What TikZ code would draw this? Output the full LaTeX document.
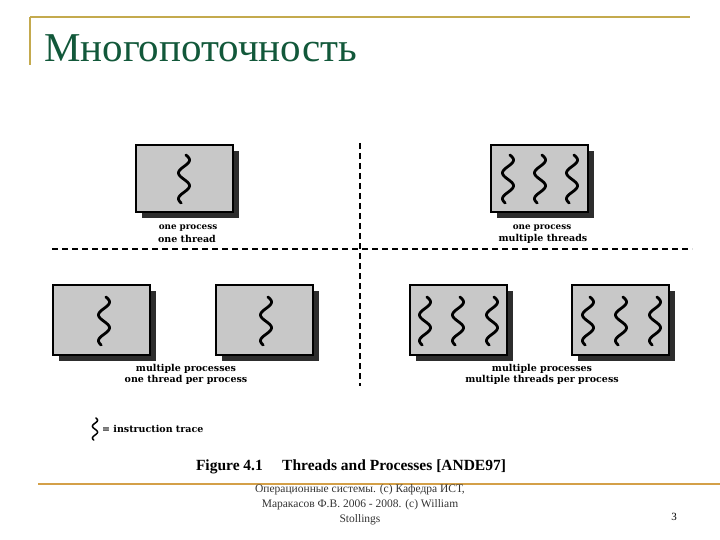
\documentclass[tikz,border=0pt]{standalone}
\usepackage{fontspec}
\setmainfont{Liberation Serif}
\newfontfamily\lblfont{DejaVu Serif}
\usetikzlibrary{shadows}
\definecolor{titlegreen}{RGB}{18,88,58}
\definecolor{goldline}{RGB}{196,170,78}
\definecolor{orangeline}{RGB}{212,160,72}
\definecolor{boxgray}{RGB}{200,200,200}
\definecolor{shadowgray}{RGB}{45,45,45}
\tikzset{
  squigline/.style={line width=2.8pt, line cap=round},
  squig/.pic={\draw[squigline] plot[smooth, domain=20:690, samples=70] ({5.5*sin(\x)}, {-24+0.071642*(\x-20)});},
  procbox/.style={draw=black, line width=1.3pt, fill=boxgray, minimum width=97pt, inner sep=0pt,
    general shadow={fill=shadowgray, shadow xshift=6pt, shadow yshift=-6pt}},
  lblsmall/.style={font=\lblfont\bfseries\fontsize{8.8}{10}\selectfont, inner sep=0pt},
  lbl/.style={font=\lblfont\bfseries\fontsize{9.5}{11}\selectfont, inner sep=0pt},
  divider/.style={line width=1.8pt, dash pattern=on 6pt off 4pt},
  footer/.style={font=\fontsize{11.5}{15}\selectfont, align=center, inner sep=0pt, text=black!80}
}
\begin{document}
\begin{tikzpicture}[x=1pt, y=-1pt]
\useasboundingbox (0,0) rectangle (720,540);
% frame lines
\draw[goldline, line width=1.6pt] (30,17) -- (690,17);
\draw[goldline, line width=1.6pt] (30,17) -- (30,65);
\draw[orangeline, line width=2.4pt] (38,484) -- (720,484);
% title
\node[anchor=base west, inner sep=0pt, text=titlegreen, font=\fontsize{41}{45}\selectfont] (title) at (44,62) {Многопоточность};
% dividers
\draw[divider] (360,143) -- (360,386);
\draw[divider] (52,249) -- (692,249);
% top-left: one process one thread
\node[procbox, minimum height=67pt] (tl) at (184.5,178.5) {};
\pic at (184,179) {squig};
\node[lblsmall] (tl1) at (188,228) {one process};
\node[lbl] (tl2) at (187,239) {one thread};
% top-right: one process multiple threads
\node[procbox, minimum height=67pt] (tr) at (539.5,178.5) {};
\pic at (508,179) {squig};
\pic at (540,179) {squig};
\pic at (572,179) {squig};
\node[lblsmall] (tr1) at (542,228) {one process};
\node[lbl] (tr2) at (543,239) {multiple threads};
% bottom-left: multiple processes one thread per process
\node[procbox, minimum height=70pt] (b1) at (101.5,320) {};
\node[procbox, minimum height=70pt] (b2) at (264.5,320) {};
\pic at (104,321) {squig};
\pic at (266,321) {squig};
\node[lbl] (bl1) at (186,369) {multiple processes};
\node[lbl] (bl2) at (186,380) {one thread per process};
% bottom-right: multiple processes multiple threads per process
\node[procbox, minimum height=70pt] (b3) at (458.5,320) {};
\node[procbox, minimum height=70pt] (b4) at (620.5,320) {};
\pic at (425,321) {squig};
\pic at (458,321) {squig};
\pic at (492,321) {squig};
\pic at (588,321) {squig};
\pic at (621,321) {squig};
\pic at (655,321) {squig};
\node[lbl] (br1) at (542,369) {multiple processes};
\node[lbl] (br2) at (542,380) {multiple threads per process};
% legend
\pic[scale=0.46, squigline/.style={line width=1.5pt, line cap=round}] at (95,429) {squig};
\node[lbl, anchor=west] (legend) at (102,429) {= instruction trace};
% caption
\node[inner sep=0pt, font=\bfseries\fontsize{15.5}{17}\selectfont] (caption) at (351,467) {Figure 4.1\quad\ Threads and Processes [ANDE97]};
% footer
\node[footer, anchor=north] (foot) at (360,484.5) {Операционные системы. (c) Кафедра ИСТ,\\Маракасов Ф.В. 2006 - 2008. (c) William\\Stollings};
\node[inner sep=0pt, font=\fontsize{11}{13}\selectfont] (pagenum) at (674,517) {3};
\end{tikzpicture}
\end{document}
